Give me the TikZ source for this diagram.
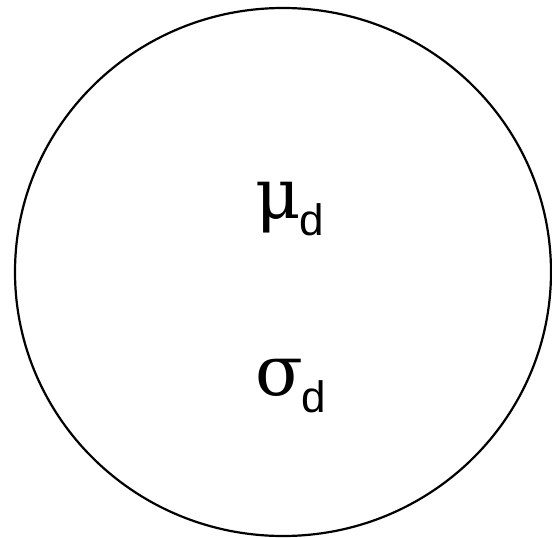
\documentclass[tikz,border=0pt]{standalone}
\usepackage{fontspec}
\setmainfont{Liberation Sans}
\newfontfamily\grk{DejaVu Serif}
\usetikzlibrary{shapes.geometric}
\tikzset{
  bubble/.style={draw=black, line width=2.2pt, ellipse, minimum width=536pt, minimum height=528pt, inner sep=0pt},
  lbl/.style={anchor=base west, inner sep=0pt, font=\fontsize{70}{74}\selectfont}
}
\newcommand{\sub}[1]{\kern-1pt\raisebox{-17pt}{\fontsize{44}{48}\selectfont #1}}
\begin{document}
\begin{tikzpicture}[x=1pt,y=-1pt]
\useasboundingbox (0,0) rectangle (552,538);
\node[bubble] (c) at (283,272) {};
\node[lbl] (mu) at (255,218) {{\grk μ}\sub{d}};
\node[lbl] (sigma) at (255,395) {{\grk σ}\sub{d}};
\end{tikzpicture}
\end{document}
